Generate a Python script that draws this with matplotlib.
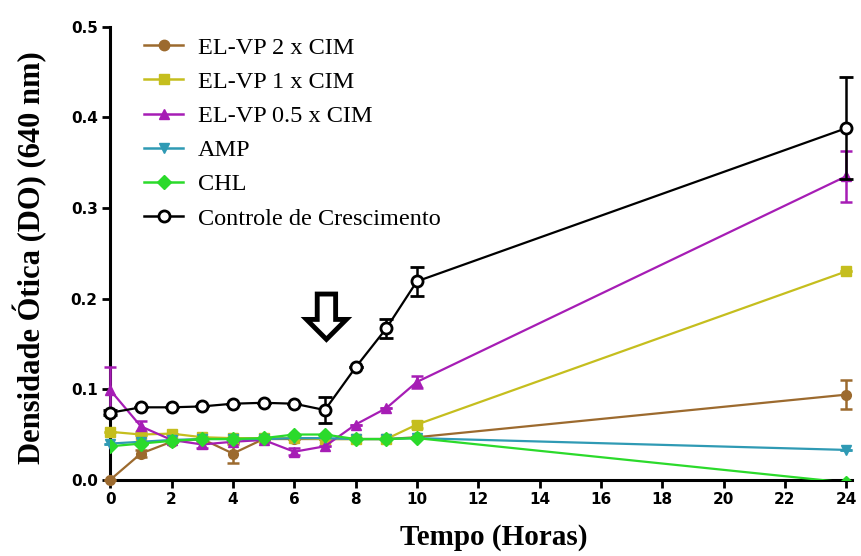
import numpy as np
import matplotlib.pyplot as plt
from matplotlib.patches import FancyArrow
from matplotlib.lines import Line2D

# tempo de leitura (horas)
tempo = [0, 1, 2, 3, 4, 5, 6, 7, 8, 9, 10, 24]

# densidade otica media (DO 640 nm) e erro de cada grupo
elvp_2 = [0.000, 0.029, 0.042, 0.045, 0.029, 0.045, 0.045, 0.045, 0.045, 0.045, 0.047, 0.094]
elvp_2_err = [0, 0.004, 0, 0, 0.010, 0, 0, 0, 0, 0, 0, 0.016]
elvp_1 = [0.053, 0.050, 0.051, 0.047, 0.046, 0.046, 0.046, 0.045, 0.045, 0.045, 0.061, 0.230]
elvp_1_err = [0, 0, 0, 0, 0, 0, 0, 0, 0, 0, 0.004, 0]
elvp_05 = [0.099, 0.059, 0.044, 0.039, 0.042, 0.044, 0.031, 0.037, 0.061, 0.079, 0.108, 0.335]
elvp_05_err = [0.025, 0.006, 0, 0.004, 0, 0, 0.004, 0, 0, 0, 0.007, 0.028]
amp = [0.040, 0.042, 0.044, 0.045, 0.045, 0.045, 0.046, 0.046, 0.045, 0.045, 0.046, 0.033]
amp_err = [0] * 12
chl = [0.037, 0.040, 0.043, 0.045, 0.045, 0.046, 0.050, 0.050, 0.045, 0.045, 0.046, -0.003]
chl_err = [0] * 12
controle = [0.074, 0.080, 0.080, 0.081, 0.084, 0.085, 0.084, 0.077, 0.124, 0.167, 0.219, 0.388]
controle_err = [0.003, 0, 0, 0, 0, 0, 0, 0.014, 0, 0.010, 0.016, 0.056]

fig = plt.figure(figsize=(8.61, 5.56), dpi=100)
ax = fig.add_axes([0.128, 0.137, 0.862, 0.815])

serif = ['Liberation Serif', 'DejaVu Serif']

series = [
    ('EL-VP 2 x CIM', elvp_2, elvp_2_err, '#9C6A2E', 'o'),
    ('EL-VP 1 x CIM', elvp_1, elvp_1_err, '#C5BE1E', 's'),
    ('EL-VP 0.5 x CIM', elvp_05, elvp_05_err, '#A61DB5', '^'),
    ('AMP', amp, amp_err, '#2F9AB4', 'v'),
    ('CHL', chl, chl_err, '#2BDA2B', 'D'),
]
handles = []
for nome, y, err, cor, mk in series:
    ax.errorbar(tempo, y, yerr=err, color=cor, marker=mk, markersize=7,
                lw=1.6, elinewidth=1.8, capsize=4, capthick=1.8,
                clip_on=(nome == 'CHL'), zorder=3)
    handles.append(Line2D([], [], color=cor, marker=mk, markersize=7.5, lw=1.8, label=nome))

ax.errorbar(tempo, controle, yerr=controle_err, color='black', marker='o',
            markersize=8, markerfacecolor='white', markeredgewidth=2,
            lw=1.6, elinewidth=1.8, capsize=5, capthick=2,
            clip_on=False, zorder=4)
handles.append(Line2D([], [], color='black', marker='o', markersize=8,
                      markerfacecolor='white', markeredgewidth=2, lw=1.8,
                      label='Controle de Crescimento'))

# seta indicando o momento da adicao
ax.add_patch(FancyArrow(7.05, 0.205, 0, -0.05, width=0.6, head_width=1.3,
                        head_length=0.022, length_includes_head=True,
                        facecolor='white', edgecolor='black', lw=3.5, zorder=5))

ax.set_xlim(0, 24.2)
ax.set_ylim(0, 0.5)
ax.set_xticks(np.arange(0, 25, 2))
ax.set_yticks(np.arange(0, 0.51, 0.1))
ax.set_yticklabels(['0.0', '0.1', '0.2', '0.3', '0.4', '0.5'])

for s in ['top', 'right']:
    ax.spines[s].set_visible(False)
for s in ['left', 'bottom']:
    ax.spines[s].set_linewidth(2.2)
ax.tick_params(direction='out', length=6, width=2, pad=3)
for t in ax.get_xticklabels() + ax.get_yticklabels():
    t.set_family('DejaVu Sans')
    t.set_fontweight('bold')
    t.set_fontsize(11)

ax.set_xlabel('Tempo (Horas)', family=serif, fontweight='bold', fontsize=21)
ax.xaxis.set_label_coords(0.517, -0.097)
ax.set_ylabel('Densidade Ótica (DO) (640 nm)', family=serif, fontweight='bold',
              fontsize=22)
ax.yaxis.set_label_coords(-0.085, 0.49)

ax.legend(handles=handles, loc='upper left', bbox_to_anchor=(0.026, 1.01),
          frameon=False, prop={'family': serif, 'size': 17.5}, handlelength=1.6,
          handletextpad=0.6, labelspacing=0.5, borderaxespad=0.2)

fig.savefig('out.png', dpi=100)
